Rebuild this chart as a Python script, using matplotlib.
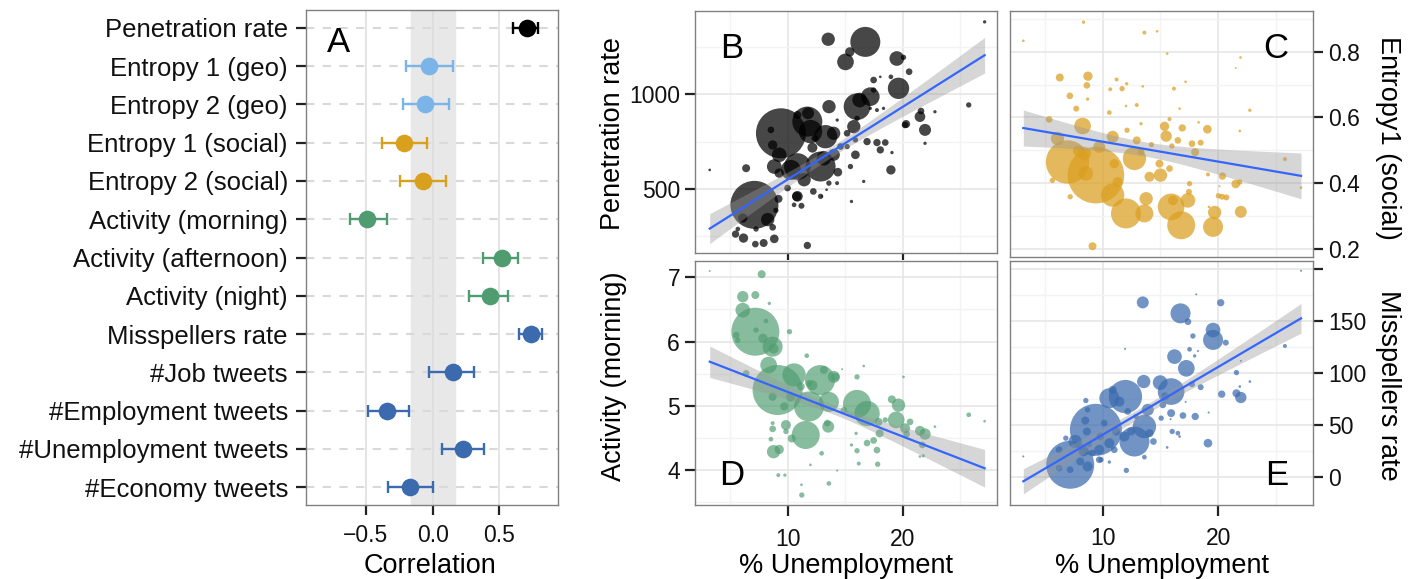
import numpy as np
import matplotlib
matplotlib.use("Agg")
import matplotlib.pyplot as plt

plt.rcParams['font.family'] = ['Liberation Sans', 'DejaVu Sans']

# ---------------- Panel A data ----------------
a_labels = ["Penetration rate", "Entropy 1 (geo)", "Entropy 2 (geo)", "Entropy 1 (social)",
            "Entropy 2 (social)", "Activity (morning)", "Activity (afternoon)", "Activity (night)",
            "Misspellers rate", "#Job tweets", "#Employment tweets", "#Unemployment tweets",
            "#Economy tweets"]
a_corr = [0.705, -0.025, -0.058, -0.215, -0.075, -0.495, 0.517, 0.43, 0.737, 0.15, -0.34, 0.23, -0.17]
a_low = [0.605, -0.20, -0.225, -0.383, -0.245, -0.62, 0.38, 0.275, 0.647, -0.025, -0.483, 0.07, -0.333]
a_high = [0.79, 0.15, 0.12, -0.045, 0.098, -0.345, 0.642, 0.567, 0.817, 0.312, -0.177, 0.387, 0.0]
a_group = ["pen", "geo", "geo", "soc", "soc", "act", "act", "act", "mis", "mis", "mis", "mis", "mis"]
a_null_band = [-0.165, 0.165]

# ---------------- Panel B: Penetration rate ----------------
b_x = [9.43, 7.13, 11.72, 12.0, 16.75, 16.03, 15.03, 13.53, 15.4, 19.48, 19.63, 17.18, 16.26, 13.6,
       13.3, 14.0, 12.87, 10.86, 10.29, 8.85, 9.28, 8.71, 8.56, 11.44, 10.86, 14.37, 14.02, 13.16,
       15.89, 16.9, 17.76, 18.48, 18.05, 18.97, 20.29, 21.49, 21.93, 21.58, 22.79, 25.72, 27.1,
       20.06, 20.55, 17.47, 18.97, 18.05, 17.47, 15.75, 16.03, 17.76, 20.2, 21.93, 19.06, 15.46,
       15.55, 16.61, 12.87, 13.59, 14.3, 12.24, 10.8, 10.57, 11.21, 11.72, 8.85, 7.93, 7.21, 6.18,
       5.49, 5.69, 7.27, 8.71, 8.28, 6.12, 8.99, 9.22, 10.0, 6.41, 3.25, 9.28, 12.16, 11.78, 10.86,
       14.6, 15.17, 15.89, 12.36, 14.31, 15.17, 13.39, 12.99, 17.18, 18.33]
b_y = [794, 415, 856, 803, 1278, 935, 1172, 1292, 1225, 1190, 1032, 988, 970, 935, 776, 794, 618,
       618, 600, 618, 680, 732, 812, 548, 460, 588, 680, 662, 680, 750, 745, 745, 706, 600, 843,
       882, 812, 912, 908, 944, 1384, 1196, 1120, 1076, 1093, 1093, 1023, 829, 873, 917, 838, 741,
       692, 618, 433, 539, 460, 530, 530, 486, 460, 415, 410, 200, 235, 213, 207, 239, 260, 287,
       287, 296, 337, 345, 386, 447, 504, 609, 600, 583, 718, 900, 891, 724, 794, 759, 768, 864,
       724, 495, 460, 926, 926]
b_size = [75, 72, 45, 35, 45, 40, 25, 20, 14, 22, 32, 28, 22, 20, 35, 20, 45, 40, 30, 22, 22, 14,
          10, 20, 16, 13, 18, 22, 13, 11, 11, 10, 11, 14, 12, 16, 18, 10, 5, 8, 5, 8, 10, 10, 7, 4,
          8, 20, 8, 6, 10, 5, 5, 8, 5, 5, 8, 8, 6, 10, 14, 7, 9, 11, 13, 12, 10, 14, 11, 7, 8, 10,
          20, 14, 8, 12, 10, 12, 4, 14, 15, 18, 12, 10, 10, 8, 10, 5, 8, 4, 3, 5, 5]
b_fit = [164, 38.5]          # intercept, slope
b_se = [28, 14, 6.9]         # min half-width, x at min, growth

# ---------------- Panel C: Entropy1 (social) ----------------
c_x = [9.42, 6.97, 12.02, 15.92, 16.79, 12.75, 10.87, 19.54, 19.68, 13.61, 13.76, 17.37, 16.07,
       15.0, 14.05, 8.27, 8.41, 6.1, 8.55, 10.87, 15.49, 15.35, 19.05, 16.88, 17.99, 17.72, 18.47,
       21.5, 21.94, 20.35, 20.32, 20.69, 25.75, 27.14, 22.72, 21.85, 21.91, 21.5, 15.58, 14.71,
       13.61, 8.35, 3.15, 6.3, 8.73, 8.64, 11.21, 12.08, 11.68, 10.66, 7.17, 8.7, 7.72, 10.58,
       12.95, 12.02, 13.47, 16.16, 17.17, 16.65, 15.78, 5.38, 12.11, 13.32, 12.95, 15.98, 16.5,
       18.29, 5.66, 7.2, 17.51, 17.46, 19.1, 9.13, 19.19, 20.1, 14.91, 15.78, 11.01, 9.71, 7.89,
       11.3, 14.22, 21.85, 20.0, 13.32]
c_y = [0.424, 0.464, 0.307, 0.327, 0.271, 0.475, 0.363, 0.266, 0.310, 0.307, 0.352, 0.347, 0.347,
       0.424, 0.419, 0.574, 0.49, 0.536, 0.429, 0.541, 0.543, 0.573, 0.564, 0.568, 0.494, 0.520,
       0.523, 0.397, 0.312, 0.421, 0.358, 0.356, 0.473, 0.386, 0.622, 0.559, 0.783, 0.751, 0.795,
       0.863, 0.859, 0.891, 0.834, 0.722, 0.726, 0.698, 0.716, 0.703, 0.688, 0.686, 0.666, 0.656,
       0.627, 0.615, 0.638, 0.635, 0.695, 0.688, 0.709, 0.627, 0.595, 0.594, 0.561, 0.581, 0.530,
       0.513, 0.530, 0.585, 0.408, 0.358, 0.398, 0.373, 0.426, 0.207, 0.327, 0.39, 0.459, 0.444,
       0.459, 0.510, 0.498, 0.403, 0.517, 0.403, 0.361, 0.495]
c_size = [85, 65, 45, 40, 42, 35, 35, 30, 20, 27, 20, 22, 15, 20, 15, 25, 20, 20, 22, 18, 17, 14,
          13, 11, 12, 10, 9, 13, 18, 11, 9, 9, 6, 4, 5, 4, 4, 3, 4, 4, 6, 5, 4, 12, 14, 10, 6, 5, 8,
          6, 10, 5, 9, 7, 6, 4, 4, 6, 4, 4, 6, 10, 8, 5, 12, 8, 10, 4, 8, 8, 8, 9, 6, 12, 4, 3, 12,
          10, 14, 18, 16, 15, 8, 8, 8, 10]
c_fit = [0.587, -0.00609]
c_se = [0.022, 13.5, 0.00487]

# ---------------- Panel D: Activity (morning) ----------------
d_x = [7.21, 9.14, 12.82, 11.87, 16.03, 10.57, 11.58, 16.9, 13.59, 8.71, 8.36, 6.12, 6.12, 7.21,
       7.76, 7.87, 8.79, 5.55, 5.69, 6.41, 8.13, 7.27, 10.17, 8.42, 3.25, 11.67, 14.02, 13.53, 9.86,
       8.79, 9.28, 10.37, 8.71, 9.86, 8.56, 8.71, 16.03, 16.61, 14.74, 19.05, 19.63, 19.43, 20.2,
       20.63, 20.34, 21.49, 21.93, 21.7, 21.78, 21.49, 22.79, 25.72, 27.1, 20.06, 17.9, 17.99,
       18.48, 17.82, 17.76, 17.47, 16.9, 16.18, 16.03, 15.55, 15.95, 12.96, 13.59, 11.24, 11.21,
       9.2, 9.77, 11.99, 14.31, 13.45, 12.16, 11.15, 11.87, 9.71, 8.71, 13.16, 14.17, 10.29, 14.89]
d_y = [6.154, 5.246, 5.40, 4.99, 5.03, 5.48, 4.545, 4.88, 5.06, 5.92, 5.635, 6.70, 6.49, 6.725,
       7.05, 6.05, 5.89, 6.10, 6.02, 5.505, 6.32, 6.18, 6.154, 6.595, 7.10, 5.78, 5.45, 4.675, 4.70,
       4.285, 4.32, 4.49, 4.64, 4.60, 4.48, 4.73, 5.45, 5.62, 5.57, 5.10, 5.01, 4.78, 4.65, 4.75,
       4.56, 4.61, 4.56, 4.39, 4.22, 4.21, 4.675, 4.86, 4.76, 5.45, 4.75, 4.57, 4.78, 4.09, 4.31,
       4.46, 4.42, 4.10, 4.30, 4.39, 4.57, 4.26, 3.79, 3.61, 3.77, 3.92, 3.92, 4.08, 3.99, 4.73,
       5.32, 5.30, 5.35, 4.99, 5.14, 5.56, 5.45, 5.14, 4.93]
d_size = [72, 75, 45, 45, 42, 35, 42, 38, 30, 30, 25, 17, 22, 12, 12, 14, 15, 10, 8, 10, 7, 8, 8,
          5, 3, 7, 18, 18, 15, 20, 14, 12, 10, 8, 7, 6, 8, 4, 3, 12, 20, 25, 15, 10, 10, 15, 17, 10,
          5, 4, 4, 7, 4, 4, 12, 12, 8, 8, 10, 10, 10, 6, 8, 5, 5, 7, 7, 8, 4, 6, 5, 4, 3, 10, 15, 12,
          10, 12, 12, 12, 12, 14, 10]
d_fit = [5.913, -0.0696]
d_se = [0.07, 14, 0.0218]

# ---------------- Panel E: Misspellers rate ----------------
e_x = [7.2, 9.42, 11.97, 16.73, 12.75, 13.61, 15.92, 10.58, 19.54, 19.54, 17.23, 16.21, 14.97,
       13.55, 13.47, 20.2, 21.94, 21.56, 20.29, 21.56, 19.1, 18.0, 16.94, 18.47, 17.72, 17.37, 17.8,
       17.51, 17.95, 20.64, 25.75, 27.14, 22.72, 3.15, 8.55, 8.7, 8.5, 7.63, 8.64, 8.35, 8.7, 8.06,
       7.2, 6.24, 9.71, 10.58, 11.01, 9.86, 10.58, 12.05, 13.61, 14.39, 14.05, 13.9, 15.2, 15.4,
       15.92, 15.06, 16.01, 16.5, 16.65, 15.58, 11.94, 18.09, 18.24, 19.16, 17.17, 15.87, 21.85,
       21.94, 10.87, 11.45, 12.17, 12.89, 12.46, 11.88, 11.16, 10.14, 9.8, 8.84, 9.71, 9.13, 6.24,
       6.82]
e_y = [11.8, 45.3, 77.2, 157, 34.1, 48.5, 82, 75.6, 131.5, 141, 104.3, 115.5, 90.6, 91.6, 167.5,
       167.2, 76.3, 80.4, 79.5, 100.2, 32.5, 58.1, 59.0, 86.2, 89.0, 149, 135.3, 122.5, 116.2,
       128.9, 125.7, 197.8, 91.6, 19.8, 73.4, 64.5, 54.2, 34.1, 43.7, 24.6, 10.2, 15.0, 7.0, 8.6,
       26.2, 32.5, 26.2, 16.6, 14.4, 6.4, 19.1, 34.1, 42.1, 64.5, 69.2, 77.2, 61.3, 56.5, 43.7,
       42.1, 38.9, 28.4, 122.9, 175.2, 120.9, 61.9, 72.1, 55.5, 86.8, 111.4, 83.6, 72.4, 62.9, 58.1,
       43.7, 38.9, 43.7, 51.7, 38.9, 31.0, 16.6, 23.0, 26.2, 37.3]
e_size = [72, 78, 50, 30, 45, 35, 40, 30, 30, 22, 25, 22, 22, 20, 18, 11, 17, 12, 11, 8, 13, 11,
          10, 9, 9, 10, 8, 7, 5, 9, 6, 3, 4, 3, 8, 8, 12, 20, 12, 15, 15, 12, 10, 10, 15, 15, 10, 8,
          5, 8, 7, 10, 12, 18, 10, 12, 12, 8, 8, 7, 4, 4, 3, 3, 3, 3, 3, 3, 4, 3, 12, 15, 10, 8, 12,
          15, 12, 10, 12, 8, 10, 10, 10, 8]
e_fit = [-24.6, 6.515]
e_se = [4.5, 14, 1.03]

# ---------------- styling ----------------
W, H = 1413, 579
fig = plt.figure(figsize=(W / 100, H / 100), dpi=100)


def rect(l, r, t, b):
    return [l / W, 1 - b / H, (r - l) / W, (b - t) / H]


group_colors = {"pen": "#000000", "geo": "#7AB4E8", "soc": "#D9A01E", "act": "#4F9C70", "mis": "#3B6BAE"}
border = "#808080"
tick_col = "#222222"
TICK_FS = 16.5
TITLE_FS = 19.5

# ---- Panel A ----
axA = fig.add_axes(rect(306, 558, 10, 505))
axA.set_xlim(-0.95, 0.94)
axA.set_ylim(12.47, -0.47)
axA.axvspan(a_null_band[0], a_null_band[1], color="#E8E8E8", zorder=0)
for xv in [-0.5, 0.0, 0.5]:
    axA.axvline(xv, color="#DCDCDC", lw=1.1, zorder=0.6)
for i in range(len(a_labels)):
    axA.axhline(i, color="#D9D9D9", lw=1.5, dashes=(4, 4), zorder=0.7)
for i, lab in enumerate(a_labels):
    col = group_colors[a_group[i]]
    axA.errorbar([a_corr[i]], [i], xerr=[[a_corr[i] - a_low[i]], [a_high[i] - a_corr[i]]],
                 fmt="none", ecolor=col, elinewidth=1.7, capsize=4.3, capthick=1.7, zorder=3)
    axA.plot([a_corr[i]], [i], "o", color=col, ms=12.7, mew=0, zorder=4)
axA.set_yticks(range(len(a_labels)))
axA.set_yticklabels(a_labels, fontsize=18.5, color="#111111")
axA.set_xticks([-0.5, 0.0, 0.5])
axA.set_xticklabels(["\u22120.5", "0.0", "0.5"], fontsize=TICK_FS, color="#111111")
axA.tick_params(axis="y", length=7, width=1.6, color=tick_col, pad=6)
axA.tick_params(axis="x", length=7, width=1.6, color=tick_col, pad=7)
for s in axA.spines.values():
    s.set_color(border)
    s.set_linewidth(1.0)
axA.text(0.082, 0.915, "A", transform=axA.transAxes, fontsize=25, va="baseline", ha="left")
fig.text(430 / W, 1 - 573 / H, "Correlation", fontsize=TITLE_FS, ha="center", va="baseline")


# ---- scatter panels ----
def scatter_panel(rc, xs, ys, sizes, fit, se, color, alpha, ylim, yticks, yticklabels,
                  ymajor, yminor, side, letter, lpos, lha, show_xlabels, xtick_marks):
    ax = fig.add_axes(rc)
    ax.set_xlim(2.0, 28.2)
    ax.set_ylim(*ylim)
    for xv in [5, 15, 25]:
        ax.axvline(xv, color="#F3F3F3", lw=1.0, zorder=0)
    for xv in [10, 20]:
        ax.axvline(xv, color="#E6E6E6", lw=1.2, zorder=0)
    for yv in yminor:
        ax.axhline(yv, color="#F3F3F3", lw=1.0, zorder=0)
    for yv in ymajor:
        ax.axhline(yv, color="#E6E6E6", lw=1.2, zorder=0)
    xs = np.asarray(xs, float)
    ys = np.asarray(ys, float)
    sz = np.asarray(sizes, float)
    area = (0.48 * sz) ** 2
    order = np.argsort(-area)
    ax.scatter(xs[order], ys[order], s=area[order], c=color, alpha=alpha, linewidths=0, zorder=2)
    xx = np.linspace(xs.min(), xs.max(), 200)
    yy = fit[0] + fit[1] * xx
    hw = np.sqrt(se[0] ** 2 + (se[2] * (xx - se[1])) ** 2)
    ax.fill_between(xx, yy - hw, yy + hw, color="#999999", alpha=0.4, lw=0, zorder=3)
    ax.plot(xx, yy, color="#3366FF", lw=1.6, zorder=4)
    ax.set_xticks([10, 20])
    if show_xlabels:
        ax.set_xticklabels(["10", "20"], fontsize=TICK_FS, color="#111111")
        ax.tick_params(axis="x", length=8, width=1.6, color=tick_col, pad=8)
    else:
        ax.set_xticklabels([])
        ax.tick_params(axis="x", length=5 if xtick_marks else 0, width=1.6, color=tick_col)
    ax.set_yticks(yticks)
    ax.set_yticklabels(yticklabels, fontsize=TICK_FS, color="#111111")
    if side == "right":
        ax.yaxis.tick_right()
    ax.tick_params(axis="y", length=7, width=1.6, color=tick_col, pad=4)
    for s in ax.spines.values():
        s.set_color(border)
        s.set_linewidth(1.0)
    ax.text(lpos[0], lpos[1], letter, transform=ax.transAxes, fontsize=25, va="baseline", ha=lha,
            zorder=6)
    return ax


axB = scatter_panel(rect(695.3, 997.3, 11.3, 253), b_x, b_y, b_size, b_fit, b_se, "#000000", 0.72,
                    (160, 1440), [500, 1000], ["500", "1000"], [500, 1000], [250, 750, 1250],
                    "left", "B", (0.082, 0.807), "left", False, True)
axC = scatter_panel(rect(1010, 1313.3, 11, 256.7), c_x, c_y, c_size, c_fit, c_se, "#DA9F1F", 0.72,
                    (0.175, 0.925), [0.2, 0.4, 0.6, 0.8], ["0.2", "0.4", "0.6", "0.8"],
                    [0.2, 0.4, 0.6, 0.8], [0.3, 0.5, 0.7, 0.9], "right", "C", (0.919, 0.8075),
                    "right", False, False)
axD = scatter_panel(rect(695.3, 997.3, 260.7, 505.3), d_x, d_y, d_size, d_fit, d_se, "#4F9C70", 0.68,
                    (3.45, 7.26), [4, 5, 6, 7], ["4", "5", "6", "7"], [4, 5, 6, 7],
                    [3.5, 4.5, 5.5, 6.5], "left", "D", (0.0795, 0.083), "left", True, True)
axE = scatter_panel(rect(1010, 1313.3, 260.7, 505), e_x, e_y, e_size, e_fit, e_se, "#3B6BAE", 0.72,
                    (-26.8, 207.5), [0, 50, 100, 150, 200], ["0", "50", "100", "150", ""],
                    [0, 50, 100, 150, 200], [25, 75, 125, 175], "right", "E", (0.9176, 0.082),
                    "right", True, True)

# axis titles
fig.text(613 / W, 1 - 134 / H, "Penetration rate", rotation=90, fontsize=TITLE_FS, ha="center", va="center")
fig.text(614 / W, 1 - 376.7 / H, "Activity (morning)", rotation=90, fontsize=TITLE_FS, ha="center", va="center")
fig.text(1388 / W, 1 - 137.5 / H, "Entropy1 (social)", rotation=270, fontsize=TITLE_FS, ha="center", va="center")
fig.text(1388 / W, 1 - 385 / H, "Misspellers rate", rotation=270, fontsize=TITLE_FS, ha="center", va="center")
fig.text(846 / W, 1 - 573 / H, "% Unemployment", fontsize=TITLE_FS, ha="center", va="baseline")
fig.text(1162 / W, 1 - 573 / H, "% Unemployment", fontsize=TITLE_FS, ha="center", va="baseline")

fig.savefig("out.png", dpi=100)
